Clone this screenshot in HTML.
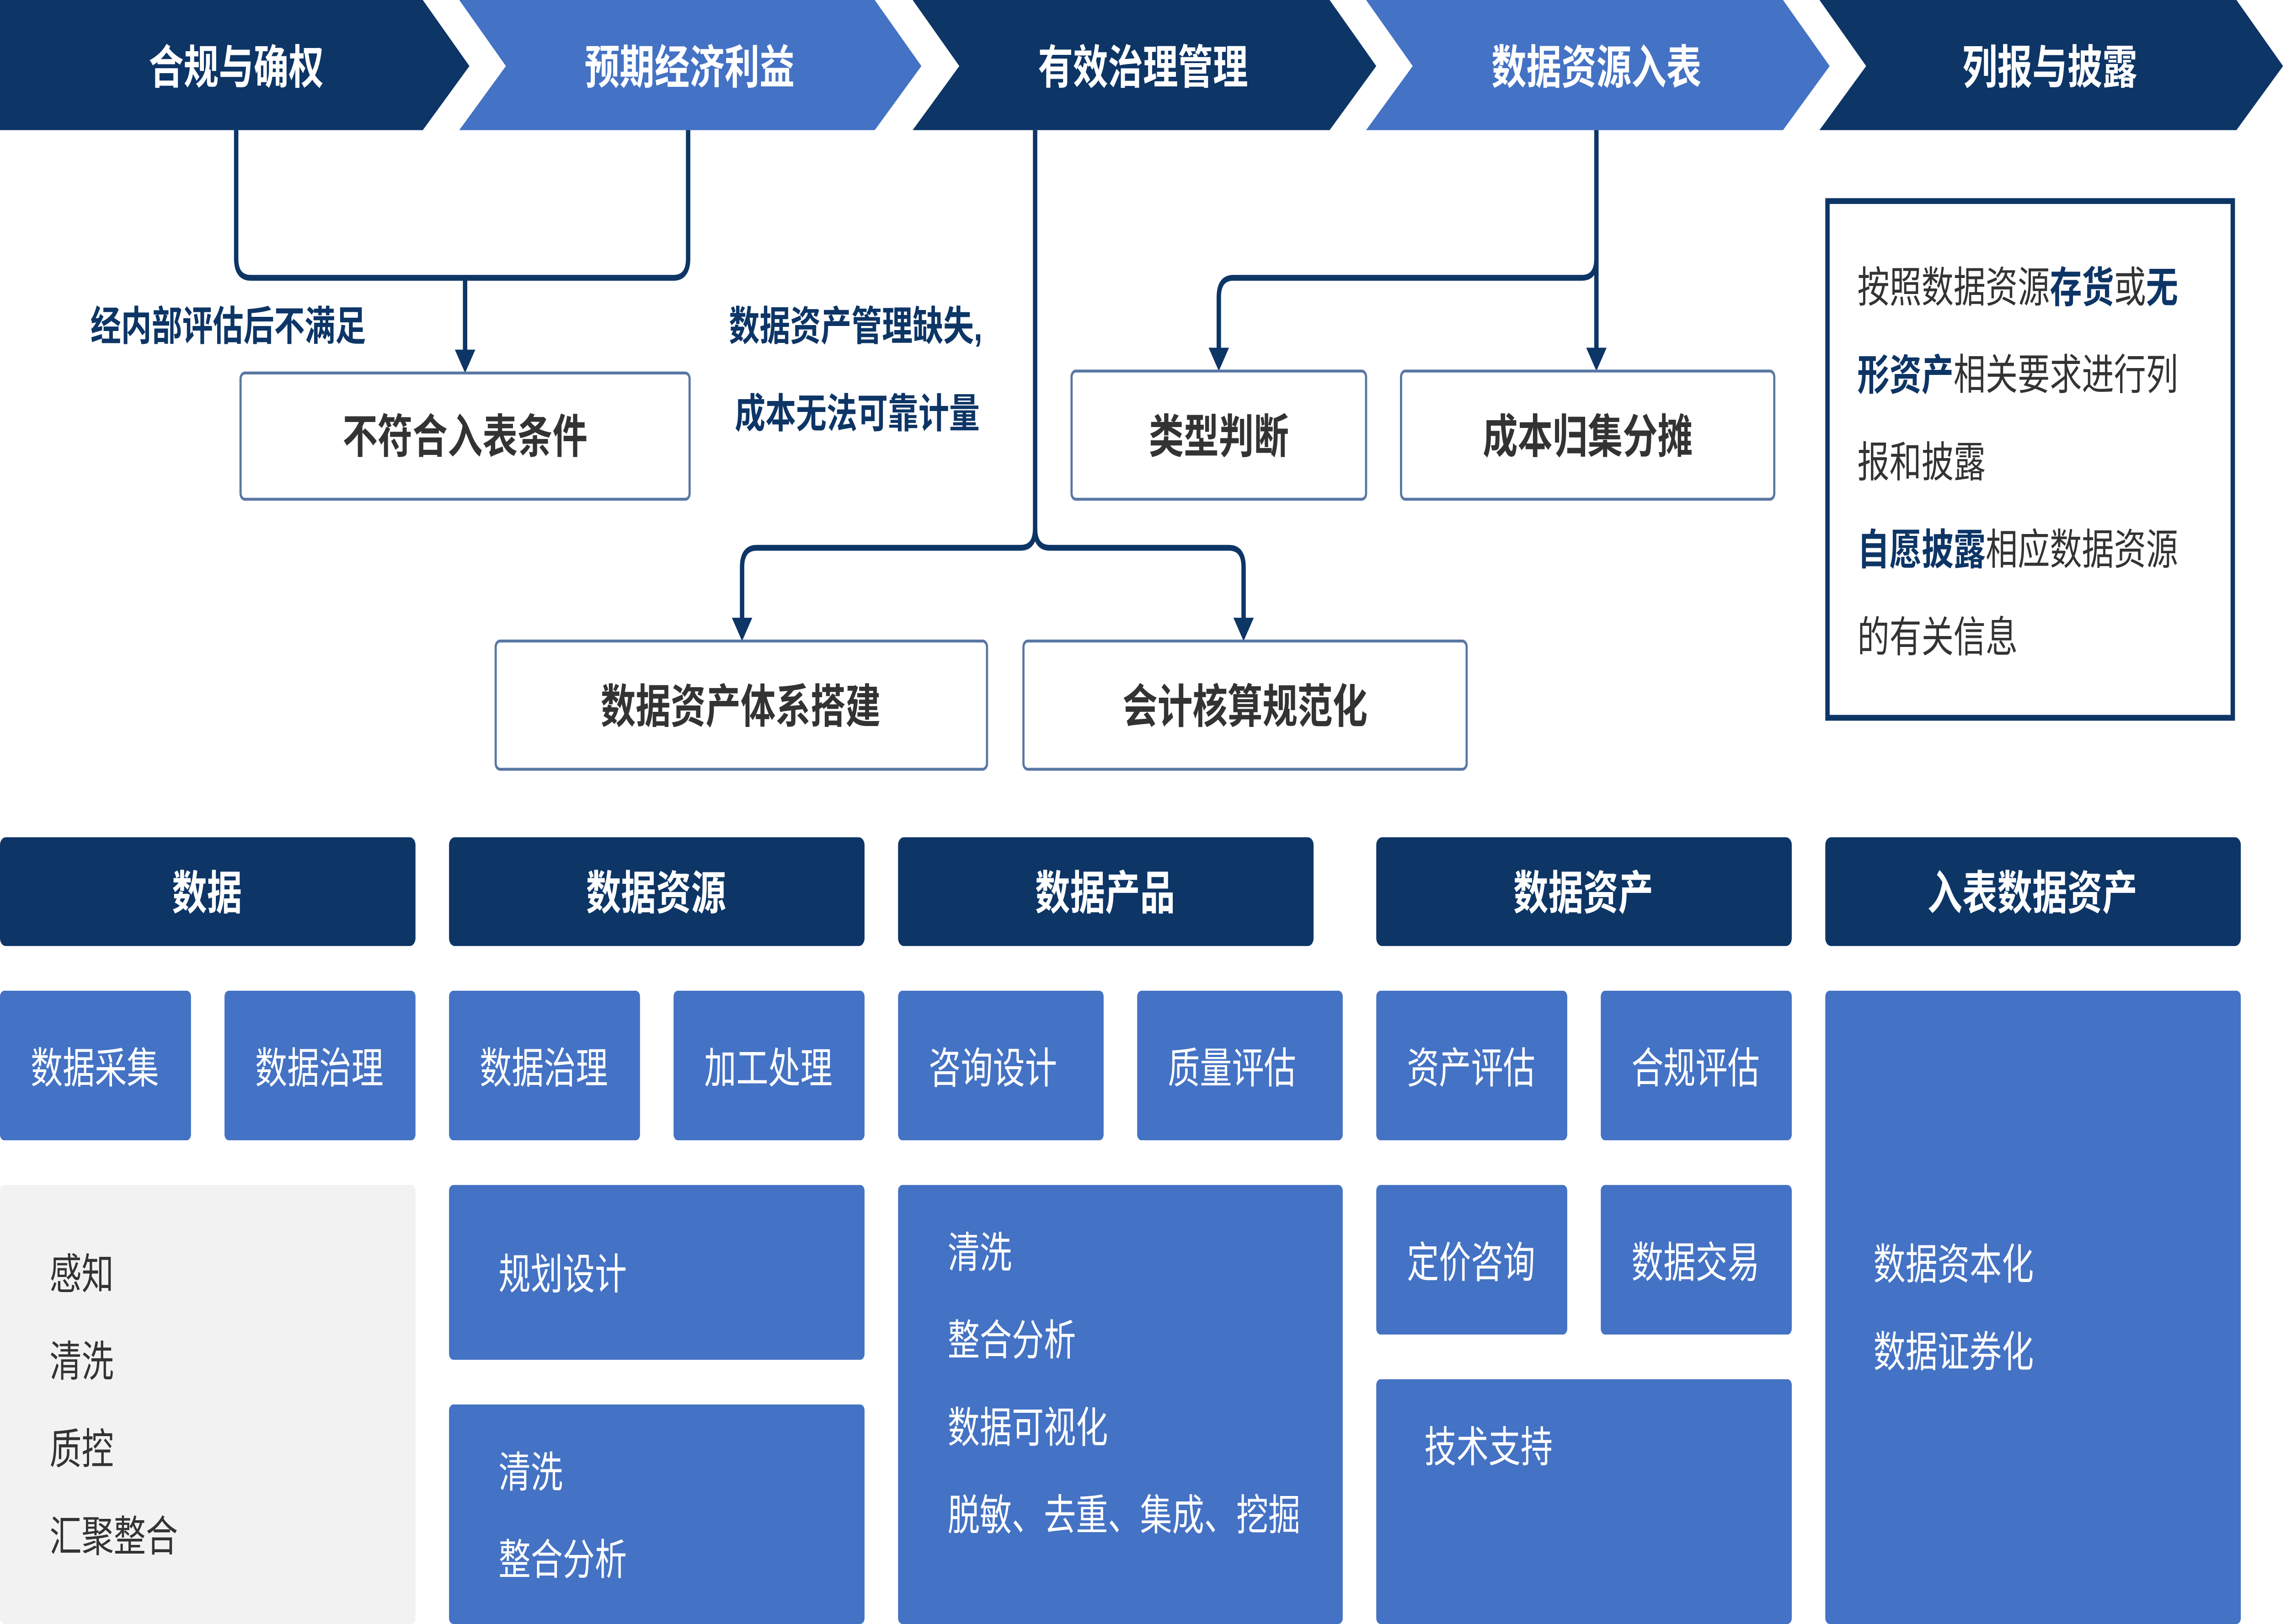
<!DOCTYPE html>
<html><head><meta charset="utf-8"><style>
html,body{margin:0;padding:0;background:#fff;overflow:hidden;}
svg{display:block;width:100vw;height:100vh;}
text{font-family:"Liberation Sans","Noto Sans CJK SC",sans-serif;}
.hd{fill:#fff;font-weight:bold;font-size:24px;text-anchor:middle;dominant-baseline:central;}
.bt{fill:#fff;font-size:22px;text-anchor:middle;dominant-baseline:central;}
.wt{fill:#333;font-weight:bold;font-size:24px;text-anchor:middle;dominant-baseline:central;}
.tx{fill:#fff;font-size:22px;dominant-baseline:central;}
.lb{fill:#0d3566;font-weight:bold;font-size:21px;dominant-baseline:central;}
.hb{fill:#0d3566;}
.bb{fill:#4472c4;}
.wb{fill:#fff;stroke:#5a77a3;stroke-width:1.5;}
</style></head><body>
<svg viewBox="0 0 1568 836" preserveAspectRatio="none" xmlns="http://www.w3.org/2000/svg">
<polygon points="0,0 290,0 322,34 290,67 0,67" fill="#0d3566"/>
<polygon points="315,0 600,0 632,34 600,67 315,67 347,34" fill="#4472c4"/>
<polygon points="626,0 912,0 944,34 912,67 626,67 658,34" fill="#0d3566"/>
<polygon points="937,0 1223,0 1255,34 1223,67 937,67 969,34" fill="#4472c4"/>
<polygon points="1248,0 1534,0 1566,34 1534,67 1248,67 1280,34" fill="#0d3566"/>
<text class="hd" x="162" y="35">合规与确权</text>
<text class="hd" x="473" y="35">预期经济利益</text>
<text class="hd" x="784" y="35">有效治理管理</text>
<text class="hd" x="1095" y="35">数据资源入表</text>
<text class="hd" x="1406" y="35">列报与披露</text>
<g fill="none" stroke="#0d3566" stroke-width="3">
<path d="M162,67 V133 Q162,143 172,143 H462 Q472,143 472,133 V67"/>
<path d="M319,143 V182"/>
<path d="M710,67 V272 Q710,282 700,282 H519 Q509,282 509,292 V320"/>
<path d="M710,272 Q710,282 720,282 H843 Q853,282 853,292 V320"/>
<path d="M1095,67 V182"/>
<path d="M1095,133 Q1095,143 1085,143 H846 Q836,143 836,153 V182"/>
</g>
<g fill="#0d3566">
<polygon points="312,180 326,180 319,192"/>
<polygon points="502,318 516,318 509,330"/>
<polygon points="846,318 860,318 853,330"/>
<polygon points="829,179 843,179 836,191"/>
<polygon points="1088,179 1102,179 1095,191"/>
</g>
<text class="lb" x="62" y="168">经内部评估后不满足</text>
<text class="lb" x="500" y="168">数据资产管理缺失,</text>
<text class="lb" x="504" y="213">成本无法可靠计量</text>

<rect class="wb" x="165" y="192" width="308" height="65" rx="3"/><text class="wt" x="319" y="225">不符合入表条件</text>
<rect class="wb" x="735" y="191" width="202" height="66" rx="3"/><text class="wt" x="836" y="225">类型判断</text>
<rect class="wb" x="961" y="191" width="256" height="66" rx="3"/><text class="wt" x="1089" y="225">成本归集分摊</text>
<rect class="wb" x="340" y="330" width="337" height="66" rx="3"/><text class="wt" x="508" y="364">数据资产体系搭建</text>
<rect class="wb" x="702" y="330" width="304" height="66" rx="3"/><text class="wt" x="854" y="364">会计核算规范化</text>

<rect x="1253.5" y="103.5" width="278" height="266" fill="none" stroke="#0d3566" stroke-width="3"/>
<g font-size="22" fill="#333" style="font-family:'Liberation Sans','Noto Sans CJK SC',sans-serif">
<text x="1274" y="148" dominant-baseline="central">按照数据资源<tspan fill="#0d3566" font-weight="bold">存货</tspan>或<tspan fill="#0d3566" font-weight="bold">无</tspan></text>
<text x="1274" y="193" dominant-baseline="central"><tspan fill="#0d3566" font-weight="bold">形资产</tspan>相关要求进行列</text>
<text x="1274" y="238" dominant-baseline="central">报和披露</text>
<text x="1274" y="283" dominant-baseline="central"><tspan fill="#0d3566" font-weight="bold">自愿披露</tspan>相应数据资源</text>
<text x="1274" y="328" dominant-baseline="central">的有关信息</text>
</g>

<rect class="hb" x="0" y="431" width="285" height="56" rx="4"/><text class="hd" x="142" y="460">数据</text>
<rect class="hb" x="308" y="431" width="285" height="56" rx="4"/><text class="hd" x="450" y="460">数据资源</text>
<rect class="hb" x="616" y="431" width="285" height="56" rx="4"/><text class="hd" x="758" y="460">数据产品</text>
<rect class="hb" x="944" y="431" width="285" height="56" rx="4"/><text class="hd" x="1086" y="460">数据资产</text>
<rect class="hb" x="1252" y="431" width="285" height="56" rx="4"/><text class="hd" x="1394" y="460">入表数据资产</text>

<rect class="bb" x="0" y="510" width="131" height="77" rx="3"/><text class="bt" x="65" y="550">数据采集</text>
<rect class="bb" x="154" y="510" width="131" height="77" rx="3"/><text class="bt" x="219" y="550">数据治理</text>
<rect class="bb" x="308" y="510" width="131" height="77" rx="3"/><text class="bt" x="373" y="550">数据治理</text>
<rect class="bb" x="462" y="510" width="131" height="77" rx="3"/><text class="bt" x="527" y="550">加工处理</text>
<rect class="bb" x="616" y="510" width="141" height="77" rx="3"/><text class="bt" x="681" y="550">咨询设计</text>
<rect class="bb" x="780" y="510" width="141" height="77" rx="3"/><text class="bt" x="845" y="550">质量评估</text>
<rect class="bb" x="944" y="510" width="131" height="77" rx="3"/><text class="bt" x="1009" y="550">资产评估</text>
<rect class="bb" x="1098" y="510" width="131" height="77" rx="3"/><text class="bt" x="1163" y="550">合规评估</text>
<rect class="bb" x="1252" y="510" width="285" height="326" rx="3"/>
<text class="tx" x="1285" y="651">数据资本化</text>
<text class="tx" x="1285" y="696">数据证券化</text>

<rect x="0" y="610" width="285" height="226" rx="3" fill="#f2f2f2"/>
<g fill="#333" font-size="22" style="font-family:'Liberation Sans','Noto Sans CJK SC',sans-serif">
<text x="34" y="656" dominant-baseline="central">感知</text>
<text x="34" y="701" dominant-baseline="central">清洗</text>
<text x="34" y="746" dominant-baseline="central">质控</text>
<text x="34" y="791" dominant-baseline="central">汇聚整合</text>
</g>

<rect class="bb" x="308" y="610" width="285" height="90" rx="3"/><text class="tx" x="342" y="656">规划设计</text>
<rect class="bb" x="308" y="723" width="285" height="113" rx="3"/>
<text class="tx" x="342" y="758">清洗</text><text class="tx" x="342" y="803">整合分析</text>

<rect class="bb" x="616" y="610" width="305" height="226" rx="3"/>
<text class="tx" x="650" y="645">清洗</text>
<text class="tx" x="650" y="690">整合分析</text>
<text class="tx" x="650" y="735">数据可视化</text>
<text class="tx" x="650" y="780">脱敏、去重、集成、挖掘</text>

<rect class="bb" x="944" y="610" width="131" height="77" rx="3"/><text class="bt" x="1009" y="650">定价咨询</text>
<rect class="bb" x="1098" y="610" width="131" height="77" rx="3"/><text class="bt" x="1163" y="650">数据交易</text>
<rect class="bb" x="944" y="710" width="285" height="126" rx="3"/><text class="tx" x="977" y="745">技术支持</text>
</svg>
</body></html>
